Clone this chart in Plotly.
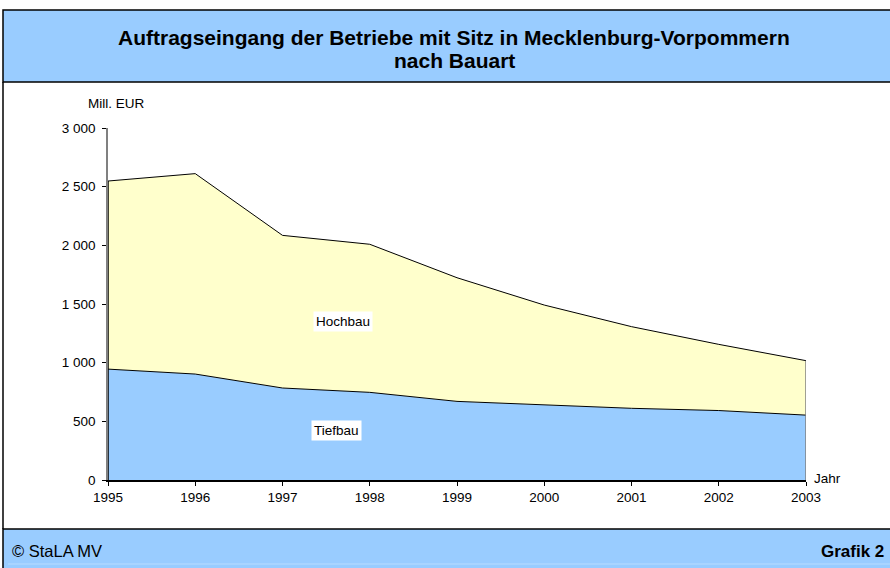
import plotly.graph_objects as go

years = [1995, 1996, 1997, 1998, 1999, 2000, 2001, 2002, 2003]
tiefbau = [945, 903, 784, 747, 670, 639, 611, 592, 553]
hochbau = [1603, 1708, 1301, 1262, 1054, 852, 696, 564, 464]
y_tickvals = [0, 500, 1000, 1500, 2000, 2500, 3000]
y_ticktext = ["0", "500", "1 000", "1 500", "2 000", "2 500", "3 000"]

FONT = "Liberation Sans, Arial, sans-serif"
W, H = 890, 568
L, R, T, B = 108, 84, 128, 88
PW, PH = W - L - R, H - T - B


def px(x):
    return (x - L) / PW


def py(y):
    return (H - B - y) / PH


fig = go.Figure()
fig.add_trace(go.Scatter(
    x=years, y=tiefbau, name="Tiefbau", stackgroup="one", mode="lines",
    line=dict(color="black", width=1), fillcolor="#99CCFF", hoverinfo="skip"))
fig.add_trace(go.Scatter(
    x=years, y=hochbau, name="Hochbau", stackgroup="one", mode="lines",
    line=dict(color="black", width=1), fillcolor="#FFFFCC", hoverinfo="skip"))

total = [a + b for a, b in zip(tiefbau, hochbau)]

shapes = [
    dict(type="rect", xref="paper", yref="paper", x0=px(3), x1=px(900),
         y0=py(82), y1=py(10),
         fillcolor="#99CCFF", line=dict(color="black", width=1.5), layer="below"),
    dict(type="rect", xref="paper", yref="paper", x0=px(3), x1=px(900),
         y0=py(580), y1=py(529),
         fillcolor="#99CCFF", line=dict(color="black", width=1.5), layer="below"),
    dict(type="line", xref="paper", yref="paper", x0=px(8), x1=px(900),
         y0=py(564), y1=py(564), line=dict(color="#B8DCFF", width=1)),
    dict(type="line", xref="paper", yref="paper", x0=px(3), x1=px(3),
         y0=py(529), y1=py(82), line=dict(color="black", width=1.5)),
    dict(type="line", xref="x", yref="y", x0=years[-1], x1=years[-1], y0=0, y1=total[-1],
         line=dict(color="#808080", width=1.5)),
    dict(type="line", xref="x", yref="y", x0=years[0], x1=years[0], y0=0, y1=total[0],
         line=dict(color="black", width=1.5)),
]

annotations = [
    dict(text="<b>Auftragseingang der Betriebe mit Sitz in Mecklenburg-Vorpommern</b>",
         xref="paper", yref="paper", x=px(454), y=py(37),
         showarrow=False, font=dict(size=21, color="black", family=FONT),
         xanchor="center", yanchor="middle"),
    dict(text="<b>nach Bauart</b>",
         xref="paper", yref="paper", x=px(454), y=py(61),
         showarrow=False, font=dict(size=21, color="black", family=FONT),
         xanchor="center", yanchor="middle"),
    dict(text="© StaLA MV", xref="paper", yref="paper", x=px(10), y=py(551),
         showarrow=False, font=dict(size=16.5, color="black", family=FONT),
         xanchor="left", yanchor="middle"),
    dict(text="<b>Grafik 2</b>", xref="paper", yref="paper", x=px(886), y=py(551),
         showarrow=False, font=dict(size=17, color="black", family=FONT),
         xanchor="right", yanchor="middle"),
    dict(text="Mill. EUR", xref="paper", yref="paper", x=px(86), y=py(103),
         showarrow=False, font=dict(size=13.5, color="black", family=FONT),
         xanchor="left", yanchor="middle"),
    dict(text="Jahr", xref="paper", yref="paper", x=px(812), y=py(478),
         showarrow=False, font=dict(size=13.5, color="black", family=FONT),
         xanchor="left", yanchor="middle"),
    dict(text="Hochbau", x=1997.69, y=1355, xref="x", yref="y", showarrow=False,
         bgcolor="white", borderpad=2, font=dict(size=13.5, color="black", family=FONT)),
    dict(text="Tiefbau", x=1997.62, y=426, xref="x", yref="y", showarrow=False,
         bgcolor="white", borderpad=2, font=dict(size=13.5, color="black", family=FONT)),
]

fig.update_layout(
    width=W, height=H,
    margin=dict(l=L, r=R, t=T, b=B),
    paper_bgcolor="white", plot_bgcolor="rgba(0,0,0,0)",
    showlegend=False,
    shapes=shapes, annotations=annotations,
    font=dict(family=FONT, size=13.5, color="black"),
    xaxis=dict(range=[years[0], years[-1]], tickvals=years, ticktext=[str(y) for y in years],
               showgrid=False, zeroline=False, showline=True, linecolor="black", linewidth=1.5,
               ticks="outside", ticklen=4, tickcolor="black", tickfont=dict(size=13.5)),
    yaxis=dict(range=[0, 3000], tickvals=y_tickvals, ticktext=y_ticktext,
               showgrid=False, zeroline=False, showline=True, linecolor="#808080", linewidth=1.5,
               ticks="outside", ticklen=4, tickcolor="black", tickfont=dict(size=13.5),
               ticklabelstandoff=4),
)

fig.write_html("out.html", config={"displayModeBar": False},
               post_script="document.body.style.margin='0';document.body.style.overflow='hidden';")
